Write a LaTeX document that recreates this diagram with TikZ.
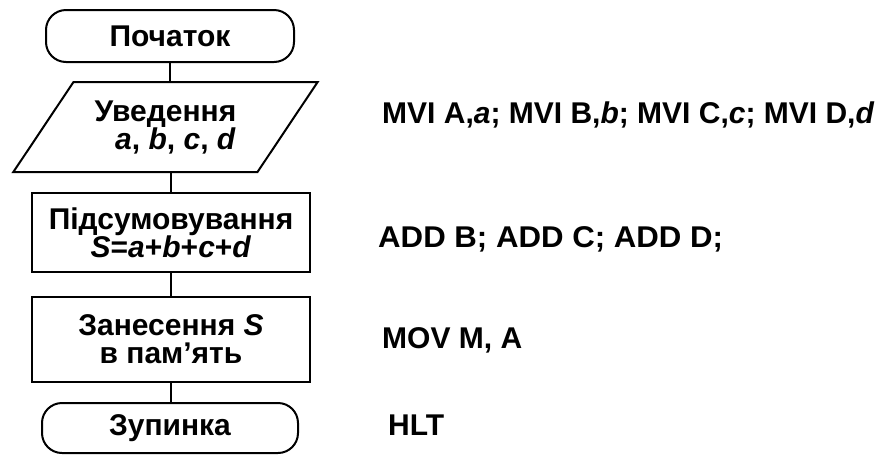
\documentclass[tikz,border=0pt]{standalone}
\usepackage{fontspec}
\setmainfont{Liberation Sans}
\usetikzlibrary{shapes.geometric}
\begin{document}
\begin{tikzpicture}[x=1pt,y=-1pt,
  every node/.style={font=\fontsize{30}{28}\selectfont\bfseries, inner sep=0pt},
  shp/.style={draw, line width=2pt},
  term/.style={shp, rounded corners=20pt, minimum width=248pt, minimum height=52pt},
  proc/.style={shp, minimum width=278pt, align=center},
  para/.style={shp, trapezium, trapezium left angle=49, trapezium right angle=131,
    trapezium stretches=true, minimum width=305pt, minimum height=90pt, align=center},
  code/.style={anchor=base west},
  conn/.style={line width=2pt}]
\useasboundingbox (0,0) rectangle (891,456);
% flowchart
\node[term] (start) at (170,36) {\raisebox{-5pt}{Початок}};
\node[para] (inp) at (165.5,127) {Уведення\\\hspace*{20pt}\textit{a}, \textit{b}, \textit{c}, \textit{d}};
\node[proc, minimum height=79pt] (sum) at (171,232.5) {Підсумовування\\\textit{S}=\textit{a}+\textit{b}+\textit{c}+\textit{d}};
\node[proc, minimum height=85pt] (store) at (171,339.5) {Занесення \textit{S}\\в пам’ять};
\node[term, minimum width=256pt, minimum height=50pt] (stop) at (170,428) {Зупинка};
% connectors
\draw[conn] (start.south) -- (start.south |- inp.north);
\draw[conn] (inp.south -| sum.north) -- (sum.north);
\draw[conn] (sum.south) -- (store.north);
\draw[conn] (store.south) -- (store.south |- stop.north);
% code
\node[code] (c1) at (382,123) {MVI A,\textit{a}; MVI B,\textit{b}; MVI C,\textit{c}; MVI D,\textit{d}};
\node[code] (c2) at (378,247) {\scalebox{1.04}[1]{ADD B; ADD C; ADD D;}};
\node[code] (c3) at (382,348) {MOV M, A};
\node[code] (c4) at (388,435) {HLT};
\end{tikzpicture}
\end{document}
